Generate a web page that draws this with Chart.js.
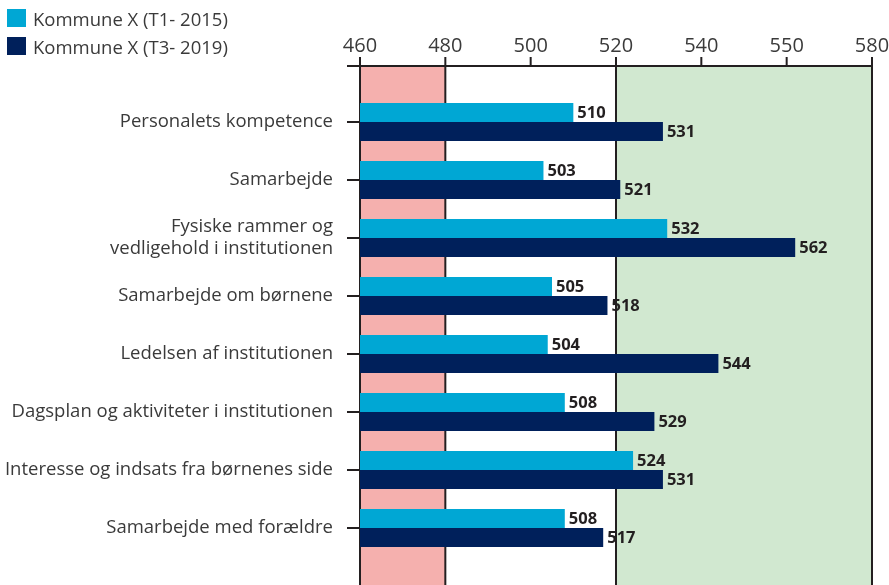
<!DOCTYPE html>
<html>
<head>
<meta charset="utf-8">
<script src="https://cdn.jsdelivr.net/npm/chart.js@4.4.1/dist/chart.umd.min.js"></script>
<style>
  html, body { margin: 0; padding: 0; background: #fff; }
  #wrap { position: relative; width: 889px; height: 585px; }
  #legend { position: absolute; left: 7px; top: 4px; font-family: 'Open Sans', sans-serif; font-size: 18.5px; color: #3a3a3a; }
  #legend div { height: 28px; display: flex; align-items: center; }
  #legend span.box { display: inline-block; width: 19px; height: 18px; margin-right: 7px; }
</style>
</head>
<body>
<div id="wrap">
  <canvas id="grafico" width="889" height="585"></canvas>
  <div id="legend"></div>
</div>
<script>
// dados
const categorias = [
  'Personalets kompetence',
  'Samarbejde',
  ['Fysiske rammer og', 'vedligehold i institutionen'],
  'Samarbejde om børnene',
  'Ledelsen af institutionen',
  'Dagsplan og aktiviteter i institutionen',
  'Interesse og indsats fra børnenes side',
  'Samarbejde med forældre'
];
const serieNomes = ['Kommune X (T1- 2015)', 'Kommune X (T3- 2019)'];
const valoresT1 = [510, 503, 532, 505, 504, 508, 524, 508];
const valoresT3 = [531, 521, 562, 518, 544, 529, 531, 517];
const tickValores = [460, 480, 500, 520, 540, 560, 580];
const tickTextos = ['460', '480', '500', '520', '540', '550', '580'];
const faixaVermelha = [460, 480];
const faixaVerde = [520, 580];
const linhasFortes = [460, 480, 520, 580];

const COR_T1 = '#00a7d4';
const COR_T3 = '#00205b';
const COR_LINHA = '#231f20';
const FONTE = "'Open Sans', sans-serif";

// legenda em HTML
const legendEl = document.getElementById('legend');
[COR_T1, COR_T3].forEach((c, i) => {
  const d = document.createElement('div');
  d.innerHTML = `<span class="box" style="background:${c}"></span>${serieNomes[i]}`;
  legendEl.appendChild(d);
});

/* fundo: faixas + linhas verticais (desenhadas antes das barras) */
const fundoPlugin = {
  id: 'fundo',
  beforeDatasetsDraw(chart) {
    const { ctx, scales: { x } } = chart;
    const topo = 66;
    const base = chart.height;
    ctx.save();
    ctx.fillStyle = '#f5b0ae';
    ctx.fillRect(x.getPixelForValue(faixaVermelha[0]), topo, x.getPixelForValue(faixaVermelha[1]) - x.getPixelForValue(faixaVermelha[0]), base - topo);
    ctx.fillStyle = '#d1e8d0';
    ctx.fillRect(x.getPixelForValue(faixaVerde[0]), topo, x.getPixelForValue(faixaVerde[1]) - x.getPixelForValue(faixaVerde[0]), base - topo);

    ctx.strokeStyle = COR_LINHA;
    ctx.lineWidth = 2;
    // linha do eixo (topo)
    ctx.beginPath();
    ctx.moveTo(x.getPixelForValue(460) - 13, topo);
    ctx.lineTo(x.getPixelForValue(580) + 1, topo);
    ctx.stroke();
    // marcas dos ticks
    tickValores.forEach(v => {
      const px = x.getPixelForValue(v);
      ctx.beginPath();
      ctx.moveTo(px, topo - 9);
      ctx.lineTo(px, linhasFortes.includes(v) ? base : topo);
      ctx.stroke();
    });
    ctx.restore();
  }
};

/* rótulos de valor no fim das barras */
const rotulosPlugin = {
  id: 'rotulos',
  afterDatasetsDraw(chart) {
    const { ctx } = chart;
    ctx.save();
    ctx.font = `bold 16.5px ${FONTE}`;
    ctx.fillStyle = COR_LINHA;
    ctx.textAlign = 'left';
    ctx.textBaseline = 'middle';
    chart.data.datasets.forEach((ds, i) => {
      chart.getDatasetMeta(i).data.forEach((bar, j) => {
        ctx.fillText(String(ds.data[j]), bar.x + 4, bar.y + 1);
      });
    });
    ctx.restore();
  }
};

Chart.defaults.font.family = FONTE;
Chart.defaults.color = '#3a3a3a';

new Chart(document.getElementById('grafico'), {
  type: 'bar',
  data: {
    labels: categorias,
    datasets: [
      { label: serieNomes[0], data: valoresT1, backgroundColor: COR_T1 },
      { label: serieNomes[1], data: valoresT3, backgroundColor: COR_T3 }
    ]
  },
  options: {
    indexAxis: 'y',
    responsive: false,
    animation: false,
    layout: { padding: { top: 0, right: 17, bottom: 28, left: 0 } },
    datasets: { bar: { categoryPercentage: 0.655, barPercentage: 1.0, base: 460 } },
    scales: {
      x: {
        position: 'top',
        min: 460,
        max: 580,
        afterBuildTicks: (axis) => { axis.ticks = tickValores.map(v => ({ value: v })); },
        afterFit: (axis) => { axis.height = 93; axis.paddingLeft = 0; axis.paddingRight = 0; },
        ticks: {
          callback: (v) => tickTextos[tickValores.indexOf(v)],
          font: { size: 20 },
          color: '#3a3a3a',
          padding: 35,
          maxRotation: 0,
          autoSkip: false
        },
        grid: { display: false, drawTicks: false },
        border: { display: false }
      },
      y: {
        afterFit: (axis) => { axis.width = 360; },
        ticks: { font: { size: 18.5 }, color: '#3a3a3a', padding: 14 },
        grid: { offset: false, drawOnChartArea: false, drawTicks: true, tickLength: 13, color: COR_LINHA, lineWidth: 2 },
        border: { display: false }
      }
    },
    plugins: {
      legend: { display: false },
      tooltip: { enabled: false }
    }
  },
  plugins: [fundoPlugin, rotulosPlugin]
});
</script>
</body>
</html>
